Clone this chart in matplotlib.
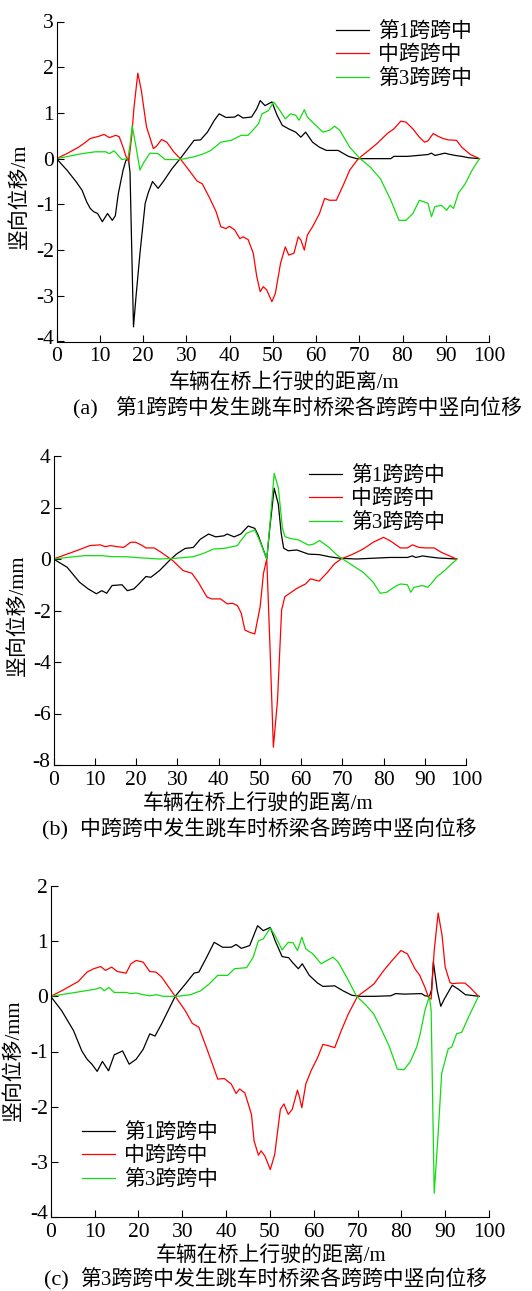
import matplotlib
matplotlib.use("Agg")
import matplotlib.pyplot as plt
from matplotlib.transforms import ScaledTranslation

plt.rcParams['font.family'] = ['Liberation Serif', 'Noto Sans CJK SC']
plt.rcParams['axes.unicode_minus'] = False

W, H = 532.0, 1291.0
FS = 15

labels = ['第1跨跨中', '中跨跨中', '第3跨跨中']
colors = ['#000000', '#ff0000', '#11dd11']
xticks = list(range(0, 101, 10))

# (a) 第1跨跨中发生跳车
a_black_x = [0, 2.4, 4.5, 5.9, 7.0, 7.8, 8.6, 9.5, 10.6, 11.8, 12.9, 13.6, 14.3, 15.4, 16.0, 16.6, 17.0, 17.4,
             17.8, 18.4, 19.3, 20.5, 21.2, 22.2, 23.5, 24.7, 26.7, 28.6, 30.6, 31.8, 33.3, 34.9, 36.5, 37.6,
             39.2, 41.2, 42.0, 43.1, 45.1, 46.3, 47.1, 48.2, 49.8, 51.0, 52.2, 53.7, 55.3, 56.5, 57.6, 59.2,
             60.8, 62.4, 65.1, 67.5, 69.4, 77.3, 78.0, 81.2, 85.9, 86.7, 87.5, 89.8, 90.6, 92.2, 93.7, 95.3, 97.8]
a_black_y = [0, -0.25, -0.5, -0.69, -0.95, -1.09, -1.16, -1.2, -1.38, -1.2, -1.35, -1.25, -0.76, -0.25, -0.05,
             0.02, -0.3, -2.0, -3.68, -3.0, -2.07, -0.98, -0.75, -0.5, -0.65, -0.5, -0.22, 0, 0.25, 0.4, 0.41,
             0.58, 0.84, 0.98, 0.9, 0.91, 0.96, 0.89, 0.91, 1.09, 1.27, 1.16, 1.24, 0.95, 0.73, 0.65, 0.58,
             0.47, 0.58, 0.36, 0.25, 0.18, 0.18, 0.05, 0, 0, 0.05, 0.05, 0.09, 0.12, 0.07, 0.12, 0.1, 0.07,
             0.05, 0.02, 0]
a_red_x = [0, 2.4, 5.1, 6.3, 7.8, 9.8, 11.0, 12.2, 13.7, 14.5, 15.5, 16.1, 16.7, 17.4, 17.9, 18.8, 19.6, 20.8,
           22.4, 23.1, 24.3, 25.5, 27.1, 28.6, 30.6, 32.5, 33.7, 35.3, 36.9, 38.0, 39.2, 40.0, 41.2, 42.4,
           43.1, 44.3, 45.5, 46.3, 47.1, 47.8, 48.6, 49.8, 50.6, 51.8, 52.9, 53.7, 54.9, 55.9, 56.5, 57.3,
           58.0, 59.2, 60.8, 62.0, 63.1, 64.7, 66.3, 67.8, 69.8, 71.8, 74.1, 76.5, 78.0, 79.6, 80.8, 82.4,
           83.9, 85.1, 85.9, 87.1, 88.2, 89.4, 90.6, 92.5, 93.7, 95.7, 97.8]
a_red_y = [0, 0.11, 0.25, 0.33, 0.44, 0.49, 0.53, 0.46, 0.51, 0.48, 0.22, 0.04, -0.07, 0.5, 1.1, 1.87, 1.5,
           0.7, 0.22, 0.27, 0.42, 0.36, 0.15, 0, -0.25, -0.49, -0.55, -0.84, -1.16, -1.49, -1.53, -1.48,
           -1.56, -1.75, -1.71, -1.77, -2.07, -2.58, -2.91, -2.8, -2.87, -3.13, -2.95, -2.29, -1.93, -2.11,
           -2.07, -1.71, -1.78, -2.0, -1.67, -1.49, -1.2, -0.87, -0.91, -0.91, -0.58, -0.25, 0, 0.15, 0.33,
           0.55, 0.65, 0.82, 0.8, 0.65, 0.47, 0.36, 0.39, 0.55, 0.49, 0.44, 0.41, 0.4, 0.25, 0.09, 0]
a_green_x = [0, 2.7, 5.9, 9.0, 11.4, 12.2, 13.3, 14.1, 15.1, 16.5, 17.0, 17.5, 18.4, 19.3, 20.2, 21.6, 23.5,
             25.1, 28.6, 31.8, 34.1, 35.7, 38.0, 40.4, 42.7, 44.3, 46.7, 47.5, 49.0, 50.2, 51.4, 52.9, 54.1,
             55.3, 56.1, 57.3, 58.0, 59.6, 61.6, 63.1, 64.3, 65.5, 67.8, 70.2, 72.5, 74.9, 77.3, 79.2, 80.8,
             82.4, 83.9, 85.1, 85.9, 86.7, 87.5, 89.0, 90.2, 91.0, 91.8, 92.9, 94.5, 96.1, 97.8]
a_green_y = [0, 0.05, 0.11, 0.15, 0.15, 0.11, 0.17, 0.09, -0.02, 0, 0.3, 0.72, 0.25, -0.25, -0.08, 0.12, 0.11,
             -0.02, -0.02, 0.04, 0.11, 0.18, 0.36, 0.4, 0.51, 0.51, 0.76, 0.98, 1.05, 1.24, 1.09, 0.87, 0.98,
             0.95, 0.84, 1.07, 0.91, 0.76, 0.58, 0.62, 0.71, 0.62, 0.25, 0, -0.18, -0.44, -0.91, -1.35, -1.35,
             -1.2, -0.91, -0.95, -0.98, -1.27, -1.05, -1.02, -1.13, -1.02, -1.09, -0.76, -0.55, -0.25, 0]

# (b) 中跨跨中发生跳车
b_black_x = [0, 3.3, 6.3, 8.4, 10.4, 11.7, 12.9, 14.2, 16.6, 17.9, 19.5, 20.7, 22.4, 23.6, 25.7, 28.1, 29.8,
             31.9, 33.9, 35.6, 37.6, 39.3, 41.3, 42.1, 43.8, 45.4, 47.2, 48.8, 49.6, 50.9, 51.7, 52.5, 53.5,
             54.5, 55.2, 55.8, 56.9, 59.0, 61.8, 64.4, 66.8, 69.3, 73.4, 77.5, 81.6, 85.8, 87.0, 87.8, 89.5,
             90.7, 93.2, 97.7]
b_black_y = [0, -0.32, -0.9, -1.16, -1.35, -1.23, -1.33, -1.03, -1.0, -1.23, -1.16, -0.97, -0.68, -0.71,
             -0.45, -0.06, 0.19, 0.41, 0.45, 0.77, 0.97, 0.86, 0.9, 0.97, 0.86, 0.97, 1.28, 1.19, 0.93, 0.35,
             0, 1.3, 2.75, 2.13, 1.0, 0.42, 0.32, 0.35, 0.19, 0.17, 0.09, 0.03, 0, 0.03, 0.06, 0.06, 0.12,
             0.06, 0.12, 0.09, 0.04, 0]
b_red_x = [0, 3.3, 6.7, 8.8, 11.3, 12.5, 13.8, 15.4, 17.0, 18.7, 19.9, 21.2, 22.4, 24.4, 26.1, 28.9, 31.4,
           33.5, 35.1, 37.2, 38.4, 40.5, 42.1, 43.4, 44.6, 45.5, 46.4, 47.6, 48.8, 50.1, 50.9, 51.7, 52.5,
           53.3, 54.3, 55.3, 56.1, 57.3, 59.0, 61.1, 62.3, 64.4, 66.4, 68.1, 69.7, 72.6, 75.1, 77.5, 80.0,
           81.6, 84.1, 85.8, 87.0, 88.6, 90.3, 92.3, 94.0, 97.7]
b_red_y = [0, 0.19, 0.39, 0.52, 0.55, 0.48, 0.52, 0.48, 0.45, 0.65, 0.65, 0.55, 0.43, 0.43, 0.26, -0.06,
           -0.45, -0.55, -0.9, -1.48, -1.55, -1.55, -1.74, -1.72, -1.81, -2.1, -2.76, -2.85, -2.91, -1.85,
           -0.56, 0, -3.5, -7.31, -5.5, -1.98, -1.46, -1.33, -1.14, -0.97, -0.77, -0.86, -0.52, -0.19, 0,
           0.19, 0.39, 0.65, 0.84, 0.71, 0.43, 0.43, 0.55, 0.45, 0.43, 0.43, 0.26, 0]
b_green_x = [0, 3.3, 7.6, 11.7, 14.2, 17.4, 21.6, 25.7, 29.8, 33.9, 36.4, 38.8, 41.3, 44.6, 45.2, 46.8,
             48.8, 50.1, 51.7, 52.5, 53.5, 54.5, 55.5, 56.1, 57.3, 59.4, 61.8, 63.1, 64.5, 66.8, 68.9, 70.1,
             72.6, 75.1, 77.5, 79.2, 80.8, 82.9, 84.1, 85.8, 86.6, 87.4, 89.5, 90.7, 91.5, 92.8, 94.8, 96.5,
             97.9]
b_green_y = [0, 0.06, 0.13, 0.13, 0.09, 0.09, 0.04, 0, 0.03, 0.09, 0.22, 0.39, 0.41, 0.52, 0.67, 1.0, 1.13,
             0.67, 0, 1.4, 3.33, 2.77, 1.2, 0.87, 0.8, 0.74, 0.54, 0.58, 0.72, 0.45, 0.13, 0, -0.26, -0.52,
             -0.9, -1.33, -1.29, -1.06, -0.97, -1.0, -1.29, -1.1, -1.03, -1.1, -0.97, -0.71, -0.45, -0.19, 0]

# (c) 第3跨跨中发生跳车
c_black_x = [0, 2.5, 5.2, 7.1, 8.3, 9.4, 10.6, 11.8, 13.2, 14.5, 16.4, 17.9, 19.5, 21.1, 22.6, 23.8, 25.3,
             28.4, 30.7, 32.7, 33.8, 35.4, 37.3, 39.2, 41.2, 42.3, 43.5, 45.4, 46.6, 47.2, 48.5, 50.1, 51.2,
             52.8, 54.3, 55.1, 56.5, 57.4, 59.0, 60.9, 62.1, 64.8, 66.7, 68.7, 70.6, 73.7, 77.6, 78.7, 80.7,
             84.6, 85.4, 86.4, 86.9, 87.3, 88.2, 89.0, 89.8, 91.6, 93.0, 94.6, 97.8]
c_black_y = [0, -0.26, -0.62, -0.99, -1.14, -1.23, -1.36, -1.18, -1.35, -1.06, -0.99, -1.23, -1.14, -0.96,
             -0.68, -0.72, -0.5, 0, 0.22, 0.42, 0.44, 0.68, 0.98, 0.89, 0.89, 0.94, 0.87, 0.92, 1.16, 1.28,
             1.19, 1.25, 1.01, 0.72, 0.7, 0.62, 0.5, 0.59, 0.38, 0.24, 0.18, 0.19, 0.1, 0.02, 0, 0, 0.01,
             0.05, 0.04, 0.05, 0.01, 0, 0.12, 0.63, 0.1, -0.18, -0.05, 0.2, 0.13, 0.03, 0]
c_red_x = [0, 2.5, 6.3, 8.3, 9.8, 11.4, 12.5, 13.9, 15.2, 17.2, 18.3, 19.5, 21.1, 22.6, 24.0, 25.3, 28.4,
           30.7, 32.3, 33.8, 35.4, 36.9, 38.1, 39.6, 41.2, 42.3, 43.1, 44.3, 45.8, 46.4, 47.4, 48.0, 48.9,
           50.1, 51.1, 52.4, 53.2, 54.2, 55.1, 56.3, 56.7, 57.3, 58.2, 59.4, 60.9, 62.1, 63.6, 64.8, 66.3,
           67.9, 70.0, 71.7, 73.7, 76.0, 77.9, 79.9, 81.4, 83.1, 84.2, 85.4, 86.2, 86.8, 87.5, 88.4, 89.3,
           90.0, 91.1, 91.6, 93.0, 94.5, 95.7, 97.6]
c_red_y = [0, 0.1, 0.27, 0.44, 0.5, 0.54, 0.47, 0.53, 0.45, 0.42, 0.59, 0.65, 0.62, 0.45, 0.44, 0.35, 0,
           -0.26, -0.49, -0.56, -0.9, -1.23, -1.5, -1.49, -1.59, -1.76, -1.68, -1.75, -2.14, -2.62, -2.88,
           -2.8, -2.9, -3.14, -2.87, -2.05, -1.95, -2.14, -2.05, -1.7, -1.81, -2.02, -1.59, -1.35, -1.11,
           -0.87, -0.9, -0.93, -0.62, -0.32, 0, 0.1, 0.22, 0.47, 0.65, 0.83, 0.77, 0.5, 0.38, 0.16, -0.02,
           -0.05, 0.83, 1.51, 1.1, 0.53, 0.25, 0.23, 0.24, 0.24, 0.16, 0]
c_green_x = [0, 4.0, 7.9, 10.2, 11.4, 12.2, 13.3, 14.5, 17.2, 18.3, 19.5, 21.1, 22.6, 24.1, 25.7, 28.8,
             31.9, 34.2, 36.1, 38.1, 40.4, 41.9, 44.7, 46.2, 47.4, 48.5, 50.1, 51.2, 52.8, 54.2, 55.3, 56.3,
             57.3, 58.2, 59.8, 61.7, 62.8, 64.4, 65.6, 67.5, 69.8, 71.7, 73.7, 75.2, 77.2, 79.1, 80.6, 82.0,
             83.5, 84.3, 85.4, 86.4, 86.8, 87.5, 88.4, 89.2, 90.7, 91.5, 92.6, 93.8, 95.3, 97.6]
c_green_y = [0, 0.05, 0.1, 0.13, 0.16, 0.1, 0.16, 0.07, 0.07, 0.05, 0.06, 0.03, 0.01, 0.03, 0, 0, 0.03, 0.1,
             0.22, 0.38, 0.38, 0.5, 0.52, 0.71, 1.01, 1.04, 1.24, 1.1, 0.84, 0.98, 0.97, 0.83, 1.07, 0.86,
             0.77, 0.59, 0.64, 0.71, 0.62, 0.35, 0, -0.14, -0.32, -0.56, -0.9, -1.32, -1.33, -1.19, -0.92,
             -0.68, -0.25, 0, -0.26, -3.57, -2.49, -1.4, -0.95, -0.92, -0.68, -0.65, -0.38, 0]


def px_axes(fig, left, top, right, bottom):
    return fig.add_axes([left / W, 1 - bottom / H, (right - left) / W, (bottom - top) / H])


def draw_panel(fig, box, curves, ylim, yticks, ylabel, ylab_pos, leg_pos, xlab_pos, cap_pos, tag, caption):
    ax = px_axes(fig, *box)
    for (xs, ys), c, lab in zip(curves, colors, labels):
        ax.plot(xs, ys, color=c, lw=0.9, label=lab)
    ax.set_xlim(0, 100)
    ax.set_ylim(*ylim)
    ax.set_xticks(xticks)
    ax.set_yticks(yticks)
    ax.set_yticklabels([str(v) for v in yticks])
    for s in ('top', 'right'):
        ax.spines[s].set_visible(False)
    for s in ('left', 'bottom'):
        ax.spines[s].set_linewidth(0.8)
    ax.tick_params(direction='in', length=5, width=0.8, labelsize=15.5, pad=2)
    ax.tick_params(axis='x', pad=4)
    # lowest y label sits a little above the x axis, as in the original
    low = ax.get_yticklabels()[0]
    low.set_transform(low.get_transform() + ScaledTranslation(0, 0.05, fig.dpi_scale_trans))
    fig.text(ylab_pos[0] / W, 1 - ylab_pos[1] / H, ylabel, rotation=90, fontsize=FS,
             ha='center', va='center')
    fig.text(xlab_pos[0] / W, 1 - xlab_pos[1] / H, '车辆在桥上行驶的距离/m', fontsize=FS,
             ha='center', va='center')
    fig.text(cap_pos[0] / W, 1 - cap_pos[2] / H, tag, fontsize=16, ha='left', va='center')
    fig.text(cap_pos[1] / W, 1 - cap_pos[2] / H, caption, fontsize=FS, ha='left', va='center')
    ax.legend(loc='upper left', bbox_to_anchor=(leg_pos[0] / W, 1 - leg_pos[1] / H),
              bbox_transform=fig.transFigure, frameon=False, fontsize=FS, borderpad=0,
              borderaxespad=0, handlelength=1.6, handletextpad=0.4, labelspacing=0.18)
    return ax


fig = plt.figure(figsize=(W / 100, H / 100), dpi=100)

draw_panel(fig, (56.5, 21.5, 489, 341.5),
           [(a_black_x, a_black_y), (a_red_x, a_red_y), (a_green_x, a_green_y)],
           (-4, 3), list(range(-4, 4)), '竖向位移/m', (20, 196), (336, 22), (284, 383),
           (73, 115, 410), '(a)', '第1跨跨中发生跳车时桥梁各跨跨中竖向位移')

draw_panel(fig, (53.5, 456, 466, 765),
           [(b_black_x, b_black_y), (b_red_x, b_red_y), (b_green_x, b_green_y)],
           (-8, 4), list(range(-8, 5, 2)), '竖向位移/mm', (18, 615), (309, 466), (258, 804),
           (42, 80, 831), '(b)', '中跨跨中发生跳车时桥梁各跨跨中竖向位移')

draw_panel(fig, (50.7, 886, 489, 1217),
           [(c_black_x, c_black_y), (c_red_x, c_red_y), (c_green_x, c_green_y)],
           (-4, 2), list(range(-4, 3)), '竖向位移/mm', (14, 1060), (82, 1123), (271, 1256),
           (44, 80, 1281), '(c)', '第3跨跨中发生跳车时桥梁各跨跨中竖向位移')

fig.savefig('out.png', dpi=100)
